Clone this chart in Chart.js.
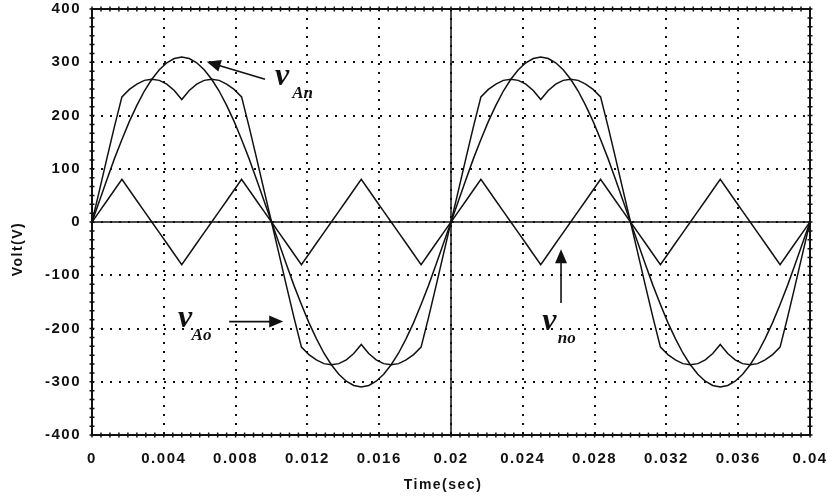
<!DOCTYPE html>
<html>
<head>
<meta charset="utf-8">
<script src="https://cdn.jsdelivr.net/npm/chart.js@4/dist/chart.umd.min.js"></script>
<style>
  body { margin: 0; background: #fff; }
  #wrap { width: 828px; height: 497px; }
</style>
</head>
<body>
<div id="wrap"><canvas id="chart" width="828" height="497"></canvas></div>
<script>
// time samples (s), two cycles of 50 Hz
const timeSec = [
  0, 0.000417, 0.000833, 0.00125, 0.001667, 0.002083, 0.0025, 0.002917, 0.003333, 0.00375,
  0.004167, 0.004583, 0.005, 0.005417, 0.005833, 0.00625, 0.006667, 0.007083, 0.0075, 0.007917,
  0.008333, 0.00875, 0.009167, 0.009583, 0.01, 0.010417, 0.010833, 0.01125, 0.011667, 0.012083,
  0.0125, 0.012917, 0.013333, 0.01375, 0.014167, 0.014583, 0.015, 0.015417, 0.015833, 0.01625,
  0.016667, 0.017083, 0.0175, 0.017917, 0.018333, 0.01875, 0.019167, 0.019583, 0.02, 0.020417,
  0.020833, 0.02125, 0.021667, 0.022083, 0.0225, 0.022917, 0.023333, 0.02375, 0.024167, 0.024583,
  0.025, 0.025417, 0.025833, 0.02625, 0.026667, 0.027083, 0.0275, 0.027917, 0.028333, 0.02875,
  0.029167, 0.029583, 0.03, 0.030417, 0.030833, 0.03125, 0.031667, 0.032083, 0.0325, 0.032917,
  0.033333, 0.03375, 0.034167, 0.034583, 0.035, 0.035417, 0.035833, 0.03625, 0.036667, 0.037083,
  0.0375, 0.037917, 0.038333, 0.03875, 0.039167, 0.039583, 0.04
];

// phase voltage vAn (V)
const vAn = [
  0, 40, 80, 119, 155, 189, 219, 246, 268, 286, 299, 307, 310, 307, 299, 286, 268, 246, 219, 189,
  155, 119, 80, 40, 0, -40, -80, -119, -155, -189, -219, -246, -268, -286, -299, -307, -310, -307, -299, -286,
  -268, -246, -219, -189, -155, -119, -80, -40, 0,
  40, 80, 119, 155, 189, 219, 246, 268, 286, 299, 307, 310, 307, 299, 286, 268, 246, 219, 189,
  155, 119, 80, 40, 0, -40, -80, -119, -155, -189, -219, -246, -268, -286, -299, -307, -310, -307, -299, -286,
  -268, -246, -219, -189, -155, -119, -80, -40, 0
];

// pole voltage vAo (V)
const vAo = [
  0, 60, 120, 179, 235, 249, 259, 266, 268, 266, 259, 247, 230, 247, 259, 266, 268, 266, 259, 249,
  235, 179, 120, 60, 0, -60, -120, -179, -235, -249, -259, -266, -268, -266, -259, -247, -230, -247, -259, -266,
  -268, -266, -259, -249, -235, -179, -120, -60, 0,
  60, 120, 179, 235, 249, 259, 266, 268, 266, 259, 247, 230, 247, 259, 266, 268, 266, 259, 249,
  235, 179, 120, 60, 0, -60, -120, -179, -235, -249, -259, -266, -268, -266, -259, -247, -230, -247, -259, -266,
  -268, -266, -259, -249, -235, -179, -120, -60, 0
];

// neutral shift vno (V)
const vno = [
  0, 20, 40, 60, 80, 60, 40, 20, 0, -20, -40, -60, -80, -60, -40, -20, 0, 20, 40, 60,
  80, 60, 40, 20, 0, -20, -40, -60, -80, -60, -40, -20, 0, 20, 40, 60, 80, 60, 40, 20,
  0, -20, -40, -60, -80, -60, -40, -20, 0,
  20, 40, 60, 80, 60, 40, 20, 0, -20, -40, -60, -80, -60, -40, -20, 0, 20, 40, 60,
  80, 60, 40, 20, 0, -20, -40, -60, -80, -60, -40, -20, 0, 20, 40, 60, 80, 60, 40, 20,
  0, -20, -40, -60, -80, -60, -40, -20, 0
];

const xTicks = [0, 0.004, 0.008, 0.012, 0.016, 0.02, 0.024, 0.028, 0.032, 0.036, 0.04];
const xTickLabels = ['0', '0.004', '0.008', '0.012', '0.016', '0.02', '0.024', '0.028', '0.032', '0.036', '0.04'];
const yTicks = [-400, -300, -200, -100, 0, 100, 200, 300, 400];
const yTickLabels = ['-400', '-300', '-200', '-100', '0', '100', '200', '300', '400'];

// labels with arrows, anchored in data units
const notes = [
  { main: 'v', sub: 'An', at: [0.0102, 257], subAt: [0.01115, 233], from: [0.00964, 268], to: [0.00639, 301] },
  { main: 'v', sub: 'Ao', at: [0.00479, -197], subAt: [0.00555, -222], from: [0.00764, -187], to: [0.01065, -187] },
  { main: 'v', sub: 'no', at: [0.02509, -203], subAt: [0.02595, -227], from: [0.02613, -152], to: [0.02613, -51] }
];

const ink = '#111';
const toPoints = vals => timeSec.map((t, i) => ({ x: t, y: vals[i] }));

const line = (label, vals) => ({
  label,
  data: toPoints(vals),
  borderColor: ink,
  borderWidth: 1.5,
  pointRadius: 0,
  tension: 0,
  fill: false
});

function arrow(ctx, x1, y1, x2, y2) {
  const a = Math.atan2(y2 - y1, x2 - x1);
  const len = 14, hw = 6;
  ctx.beginPath();
  ctx.moveTo(x1, y1);
  ctx.lineTo(x2 - Math.cos(a) * len * 0.8, y2 - Math.sin(a) * len * 0.8);
  ctx.stroke();
  ctx.beginPath();
  ctx.moveTo(x2, y2);
  ctx.lineTo(x2 - Math.cos(a) * len - Math.sin(a) * hw, y2 - Math.sin(a) * len + Math.cos(a) * hw);
  ctx.lineTo(x2 - Math.cos(a) * len + Math.sin(a) * hw, y2 - Math.sin(a) * len - Math.cos(a) * hw);
  ctx.closePath();
  ctx.fill();
}

const framePlugin = {
  id: 'frame',
  beforeDraw(chart) {
    chart.ctx.letterSpacing = '1.5px';
  },
  beforeDatasetsDraw(chart) {
    const { ctx, chartArea: a, scales: { x, y } } = chart;
    ctx.save();
    ctx.strokeStyle = ink;
    ctx.lineWidth = 1.5;
    // solid reference lines at 0 V and 0.02 s
    const y0 = y.getPixelForValue(0);
    const xm = x.getPixelForValue(0.02);
    ctx.beginPath();
    ctx.moveTo(a.left, y0); ctx.lineTo(a.right, y0);
    ctx.moveTo(xm, a.top); ctx.lineTo(xm, a.bottom);
    ctx.stroke();
    // frame
    ctx.lineWidth = 2;
    ctx.strokeRect(a.left, a.top, a.right - a.left, a.bottom - a.top);
    // minor ticks on all four sides
    ctx.lineWidth = 1.5;
    ctx.beginPath();
    for (let k = 0; k <= 80; k++) {
      const px = x.getPixelForValue(k * 0.0005);
      ctx.moveTo(px, a.top - 2.5); ctx.lineTo(px, a.top + 2.5);
      ctx.moveTo(px, a.bottom - 2.5); ctx.lineTo(px, a.bottom + 2.5);
    }
    for (let k = 0; k <= 48; k++) {
      const py = y.getPixelForValue(-400 + k * 100 / 6);
      ctx.moveTo(a.left - 2.5, py); ctx.lineTo(a.left + 2.5, py);
      ctx.moveTo(a.right - 2.5, py); ctx.lineTo(a.right + 2.5, py);
    }
    ctx.stroke();
    ctx.restore();
  },
  afterDraw(chart) {
    const { ctx, scales: { x, y } } = chart;
    ctx.save();
    ctx.fillStyle = ink;
    ctx.strokeStyle = ink;
    ctx.lineWidth = 1.6;
    ctx.textBaseline = 'alphabetic';
    ctx.textAlign = 'left';
    ctx.letterSpacing = '0px';
    notes.forEach(n => {
      ctx.font = 'italic bold 32px "Liberation Serif", "Times New Roman", serif';
      ctx.fillText(n.main, x.getPixelForValue(n.at[0]), y.getPixelForValue(n.at[1]));
      ctx.font = 'italic bold 17px "Liberation Serif", "Times New Roman", serif';
      ctx.fillText(n.sub, x.getPixelForValue(n.subAt[0]), y.getPixelForValue(n.subAt[1]));
      arrow(ctx, x.getPixelForValue(n.from[0]), y.getPixelForValue(n.from[1]),
        x.getPixelForValue(n.to[0]), y.getPixelForValue(n.to[1]));
    });
    // axis titles
    ctx.letterSpacing = '1.5px';
    ctx.font = 'bold 14px "Liberation Sans", Arial, sans-serif';
    ctx.textAlign = 'center';
    ctx.textBaseline = 'middle';
    ctx.fillText('Time(sec)', 443, 485);
    ctx.translate(18, 249);
    ctx.rotate(-Math.PI / 2);
    ctx.fillText('Volt(V)', 0, 0);
    ctx.restore();
  }
};

const tickFont = { family: '"Liberation Sans", Arial, sans-serif', size: 15, weight: 'bold' };

new Chart(document.getElementById('chart'), {
  type: 'line',
  data: {
    datasets: [line('vAn', vAn), line('vAo', vAo), line('vno', vno)]
  },
  options: {
    responsive: false,
    animation: false,
    layout: { padding: { top: 9, right: 18, left: 0, bottom: 0 } },
    plugins: {
      legend: { display: false },
      tooltip: { enabled: false }
    },
    scales: {
      x: {
        type: 'linear',
        min: 0,
        max: 0.04,
        afterBuildTicks: s => { s.ticks = xTicks.map(v => ({ value: v })); },
        afterFit: s => { s.height = 62; s.paddingLeft = 0; s.paddingRight = 0; },
        ticks: {
          color: ink,
          font: tickFont,
          padding: 15,
          maxRotation: 0,
          autoSkip: false,
          callback: (v, i) => xTickLabels[i]
        },
        grid: { color: ink, lineWidth: 2, drawTicks: false },
        border: { display: false, dash: [2, 7] }
      },
      y: {
        type: 'linear',
        min: -400,
        max: 400,
        afterBuildTicks: s => { s.ticks = yTicks.map(v => ({ value: v })); },
        afterFit: s => { s.width = 92; s.paddingTop = 0; s.paddingBottom = 0; },
        ticks: {
          color: ink,
          font: tickFont,
          padding: 11,
          autoSkip: false,
          callback: (v, i) => yTickLabels[i]
        },
        grid: { color: ink, lineWidth: 2, drawTicks: false },
        border: { display: false, dash: [2, 7] }
      }
    }
  },
  plugins: [framePlugin]
});
</script>
</body>
</html>
